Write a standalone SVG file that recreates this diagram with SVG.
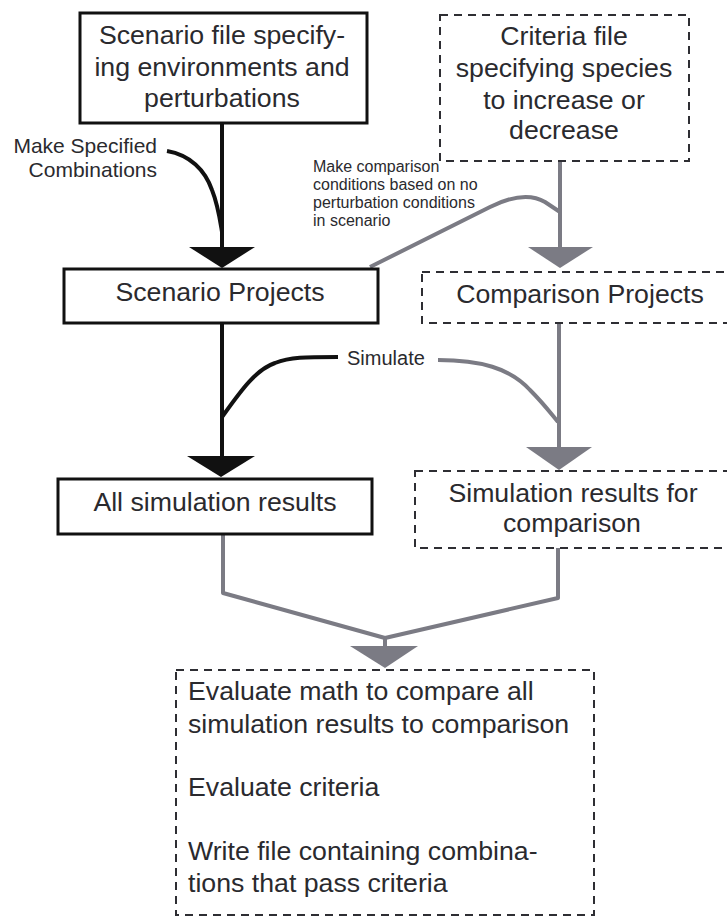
<svg xmlns="http://www.w3.org/2000/svg" width="727" height="921" viewBox="0 0 727 921">
  <style>
    text { font-family: "Liberation Sans", Arial, Helvetica, sans-serif; fill: #2a2a2e; }
    .big { font-size: 26.7px; }
    .mid { font-size: 21px; }
    .sim { font-size: 20px; }
    .small { font-size: 16px; }
    .c { text-anchor: middle; }
    .r { text-anchor: end; }
    .solid { fill: #ffffff; stroke: #111111; stroke-width: 3; }
    .dashed { fill: #ffffff; stroke: #2e2e33; stroke-width: 2; stroke-dasharray: 8 6; }
    .blk { fill: none; stroke: #111111; stroke-width: 4; stroke-linejoin: round; }
    .gry { fill: none; stroke: #7b7b84; stroke-width: 4; stroke-linejoin: round; }
    .headB { fill: #111111; }
    .headG { fill: #7b7b84; }
  </style>

  <rect width="727" height="921" fill="#ffffff"/>

  <!-- connectors -->
  <g id="connectors">
    <!-- scenario file -> scenario projects -->
    <line class="blk" x1="222" y1="123" x2="222" y2="250"/>
    <path class="blk" d="M167,151 C190,155 205,170 212,190 C218,205 220,220 222,232"/>
    <polygon class="headB" points="189,247 255,247 222,268"/>

    <!-- criteria file -> comparison projects -->
    <line class="gry" x1="560" y1="162" x2="560" y2="250"/>
    <path class="gry" d="M370,267 L490,207 C510,197 530,193 545,202 L560,212"/>
    <polygon class="headG" points="528,247 593,247 560,268"/>

    <!-- scenario projects -> all simulation results -->
    <line class="blk" x1="222" y1="323" x2="222" y2="459"/>
    <path class="blk" d="M222,417 C240,392 255,370 275,363 C290,357 305,357 338,357"/>
    <polygon class="headB" points="187,456 255,456 221,477"/>

    <!-- comparison projects -> simulation results for comparison -->
    <line class="gry" x1="559" y1="323" x2="559" y2="450"/>
    <path class="gry" d="M438,360 C480,360 510,368 530,390 C545,405 552,415 558,422"/>
    <polygon class="headG" points="526,447 592,447 559,470"/>

    <!-- both results -> evaluation -->
    <polyline class="gry" points="223,534 223,593 385,638 385,647"/>
    <polyline class="gry" points="558,548 558,598 385,638"/>
    <polygon class="headG" points="350,646 418,646 385,668"/>
  </g>

  <!-- connector labels -->
  <g id="labels">
    <text class="mid r" x="157" y="153">Make Specified</text>
    <text class="mid r" x="157" y="177">Combinations</text>
    <text class="small" x="313" y="172">Make comparison</text>
    <text class="small" x="313" y="190">conditions based on no</text>
    <text class="small" x="313" y="208">perturbation conditions</text>
    <text class="small" x="313" y="226">in scenario</text>
    <text class="sim" x="347" y="365">Simulate</text>
  </g>

  <g id="scenario-file">
    <rect class="solid" x="80" y="13" width="287" height="110"/>
    <text class="big c" x="222" y="44">Scenario file specify-</text>
    <text class="big c" x="222" y="76">ing environments and</text>
    <text class="big c" x="222" y="107">perturbations</text>
  </g>

  <g id="criteria-file">
    <rect class="dashed" x="440" y="15" width="249" height="146"/>
    <text class="big c" x="564" y="45">Criteria file</text>
    <text class="big c" x="564" y="77">specifying species</text>
    <text class="big c" x="564" y="109">to increase or</text>
    <text class="big c" x="564" y="139">decrease</text>
  </g>

  <g id="scenario-projects">
    <rect class="solid" x="64" y="269" width="314" height="54"/>
    <text class="big c" x="220" y="301">Scenario Projects</text>
  </g>

  <g id="comparison-projects">
    <rect class="dashed" x="422" y="272" width="360" height="51"/>
    <text class="big c" x="580" y="303">Comparison Projects</text>
  </g>

  <g id="all-simulation-results">
    <rect class="solid" x="58" y="479" width="314" height="55"/>
    <text class="big c" x="215" y="511">All simulation results</text>
  </g>

  <g id="comparison-results">
    <rect class="dashed" x="415" y="471" width="360" height="77"/>
    <text class="big c" x="573" y="502">Simulation results for</text>
    <text class="big c" x="572" y="532">comparison</text>
  </g>

  <g id="evaluation">
    <rect class="dashed" x="176" y="670" width="418" height="245"/>
    <text class="big" x="188" y="700">Evaluate math to compare all</text>
    <text class="big" x="188" y="733">simulation results to comparison</text>
    <text class="big" x="188" y="796">Evaluate criteria</text>
    <text class="big" x="188" y="860">Write file containing combina-</text>
    <text class="big" x="188" y="892">tions that pass criteria</text>
  </g>
</svg>
